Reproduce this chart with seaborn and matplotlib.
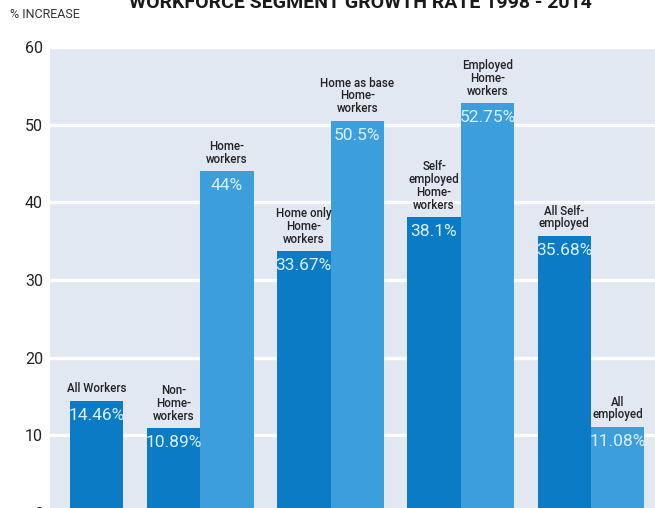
import matplotlib
matplotlib.use("Agg")
import matplotlib.pyplot as plt
import seaborn as sns
import pandas as pd
import numpy as np

# ---- data ----
groups = [1, 2, 2, 3, 3, 4, 4, 5, 5]
kinds = ["dark", "dark", "light", "dark", "light", "dark", "light", "dark", "light"]
categories = [
    "All Workers",
    "Non-\nHome-\nworkers",
    "Home-\nworkers",
    "Home only\nHome-\nworkers",
    "Home as base\nHome-\nworkers",
    "Self-\nemployed\nHome-\nworkers",
    "Employed\nHome-\nworkers",
    "All Self-\nemployed",
    "All\nemployed",
]
values = [14.46, 10.89, 44.0, 33.67, 50.5, 38.1, 52.75, 35.68, 11.08]
value_labels = ["14.46%", "10.89%", "44%", "33.67%", "50.5%", "38.1%", "52.75%", "35.68%", "11.08%"]
yticks = [0, 10, 20, 30, 40, 50, 60]

title = "WORKFORCE SEGMENT GROWTH RATE 1998 - 2014"
ylabel = "% INCREASE"

# ---- layout (bar units) ----
GAP = 0.437
positions = []
cursor = 0.0
prev = None
for g in groups:
    if prev is not None and g != prev:
        cursor += GAP
    positions.append(cursor + 0.5)
    cursor += 1.0
    prev = g

df = pd.DataFrame({"pos": positions, "value": values, "kind": kinds})

sns.set_theme(style="white")
plt.rcParams["font.family"] = ["Roboto", "DejaVu Sans"]

W, H = 655, 508
fig = plt.figure(figsize=(W / 100, H / 100), dpi=100)
ax_left = 50 / W
ax_bottom = -5 / H
ax_top = (H - 47) / H
ax = fig.add_axes([ax_left, ax_bottom, 1.0 - ax_left, ax_top - ax_bottom])

bg = "#e2e8f2"
ax.set_facecolor(bg)
palette = {"dark": "#0a7bc4", "light": "#3c9fdb"}

sns.barplot(data=df, x="pos", y="value", hue="kind", palette=palette,
            native_scale=True, dodge=False, width=1.0, legend=False,
            saturation=1.0, linewidth=0, ax=ax, zorder=3)

ax.set_xlim(-20 / 53.5, (655 - 70) / 53.5 + 0.01)
ax.set_ylim(0, 60)
ax.set_yticks(yticks)
ax.set_yticklabels([str(t) for t in yticks], fontsize=11.5, color="#222222")
ax.tick_params(axis="y", length=0, pad=5)
ax.set_xticks([])
ax.set_xlabel("")
ax.set_ylabel("")
ax.grid(axis="y", color="white", linewidth=2.4, zorder=1)
ax.set_axisbelow(True)
for s in ax.spines.values():
    s.set_visible(False)

bars = sorted(ax.patches, key=lambda p: p.get_x())
for p, cat, vl in zip(bars, categories, value_labels):
    cx = p.get_x() + p.get_width() / 2
    top = p.get_height()
    ax.annotate(vl, (cx, top), xytext=(0, -5), textcoords="offset points",
                ha="center", va="top", fontsize=12.5, color="#dcefff", zorder=5)
    ax.annotate(cat, (cx, top), xytext=(0, 4), textcoords="offset points",
                ha="center", va="bottom", fontsize=8.3, color="#222222",
                fontweight="medium", linespacing=0.98, zorder=5)

fig.text(10 / W, 1 - 15 / H, ylabel, ha="left", va="center", fontsize=9, color="#333333")
fig.text(360 / W, 1 - 8 / H, title, ha="center", va="baseline", fontsize=14,
         fontweight="bold", color="#1a1a1a")

fig.savefig("out.png", dpi=100, facecolor="white")
